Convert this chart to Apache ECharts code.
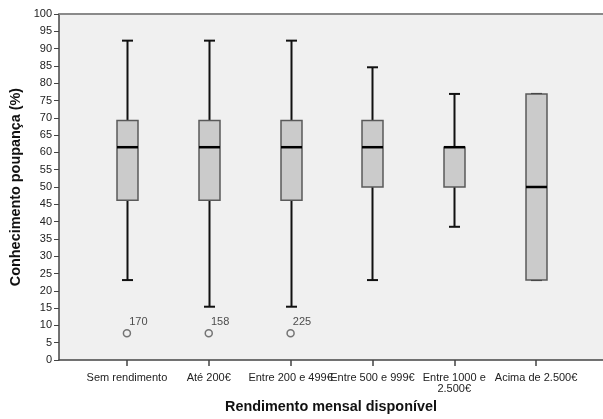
<!DOCTYPE html>
<html>
<head>
<meta charset="utf-8">
<script src="https://cdn.jsdelivr.net/npm/echarts@6/dist/echarts.min.js"></script>
<style>
  html, body { margin: 0; padding: 0; background: #fff; }
  #chart { width: 603px; height: 419px; }
</style>
</head>
<body>
<div id="chart"></div>
<script>
var categories = ['Sem rendimento', 'Até 200€', 'Entre 200 e 499€', 'Entre 500 e 999€', 'Entre 1000 e\n2.500€', 'Acima de 2.500€'];
// [min, Q1, median, Q3, max]
var boxStats = [
  [23.1, 46.2, 61.5, 69.2, 92.3],
  [15.4, 46.2, 61.5, 69.2, 92.3],
  [15.4, 46.2, 61.5, 69.2, 92.3],
  [23.1, 50.0, 61.5, 69.2, 84.6],
  [38.5, 50.0, 61.5, 61.5, 76.9],
  [23.1, 23.1, 50.0, 76.9, 76.9]
];
var outlierCats = [0, 1, 2];
var outlierValues = [7.7, 7.7, 7.7];
var outlierIds = ['170', '158', '225'];
var yTicks = { min: 0, max: 100, interval: 5 };

var chart = echarts.init(document.getElementById('chart'));

var boxData = boxStats.map(function (s, i) { return [i].concat(s); });
var outlierData = outlierCats.map(function (c, i) {
  return { value: [c, outlierValues[i]], id: outlierIds[i] };
});

function renderBox(params, api) {
  var x = api.value(0);
  var pMin = api.coord([x, api.value(1)]);
  var pQ1 = api.coord([x, api.value(2)]);
  var pMed = api.coord([x, api.value(3)]);
  var pQ3 = api.coord([x, api.value(4)]);
  var pMax = api.coord([x, api.value(5)]);
  var cx = Math.round(pMin[0]) + 0.5;
  var hw = 10.5, cw = 5.5;
  var line = { stroke: '#111', lineWidth: 2 };
  return {
    type: 'group',
    children: [
      { type: 'line', shape: { x1: cx, y1: pMax[1], x2: cx, y2: pQ3[1] }, style: line },
      { type: 'line', shape: { x1: cx, y1: pQ1[1], x2: cx, y2: pMin[1] }, style: line },
      { type: 'line', shape: { x1: cx - cw, y1: pMax[1], x2: cx + cw, y2: pMax[1] }, style: line },
      { type: 'line', shape: { x1: cx - cw, y1: pMin[1], x2: cx + cw, y2: pMin[1] }, style: line },
      { type: 'rect', shape: { x: cx - hw, y: pQ3[1], width: hw * 2, height: pQ1[1] - pQ3[1] },
        style: { fill: '#cbcbcb', stroke: '#5a5a5a', lineWidth: 1.5 } },
      { type: 'line', shape: { x1: cx - hw, y1: pMed[1], x2: cx + hw, y2: pMed[1] },
        style: { stroke: '#000', lineWidth: 2.5 } }
    ]
  };
}

var font = 'Liberation Sans, Arial, sans-serif';

var option = {
  animation: false,
  backgroundColor: '#fff',
  grid: [
    { left: 59, right: 0, top: 14, bottom: 59, outerBoundsMode: 'none', show: true, backgroundColor: '#f0f0f0', borderWidth: 0 },
    { left: 86, width: 491, top: 14, bottom: 59, outerBoundsMode: 'none' }
  ],
  xAxis: [
    {
      gridIndex: 0, type: 'value', min: 0, max: 1, position: 'bottom',
      axisLine: { show: true, onZero: false, lineStyle: { color: '#444', width: 1.5 } },
      axisTick: { show: false }, axisLabel: { show: false }, splitLine: { show: false },
      name: 'Rendimento mensal disponível', nameLocation: 'middle', nameGap: 40,
      nameTextStyle: { fontFamily: font, fontSize: 14.4, fontWeight: 'bold', color: '#111' }
    },
    {
      gridIndex: 1, type: 'category', data: categories, boundaryGap: true,
      axisLine: { show: false },
      axisTick: { show: true, alignWithLabel: true, length: 6, lineStyle: { color: '#444', width: 1.5 } },
      axisLabel: { fontFamily: font, fontSize: 11, color: '#222', margin: 12, lineHeight: 11, interval: 0 },
      splitLine: { show: false }
    },
    {
      gridIndex: 0, type: 'value', min: 0, max: 1, position: 'top',
      axisLine: { show: true, onZero: false, lineStyle: { color: '#8a8a8a', width: 2 } },
      axisTick: { show: false }, axisLabel: { show: false }, splitLine: { show: false }
    }
  ],
  yAxis: [
    {
      gridIndex: 0, type: 'value', min: yTicks.min, max: yTicks.max, interval: yTicks.interval,
      axisLine: { show: true, lineStyle: { color: '#444', width: 1.5 } },
      axisTick: { show: true, length: 5, lineStyle: { color: '#444' } },
      axisLabel: { fontFamily: font, fontSize: 11, color: '#222', margin: 7 },
      splitLine: { show: false },
      name: 'Conhecimento poupança (%)', nameLocation: 'middle', nameGap: 28,
      nameTextStyle: { fontFamily: font, fontSize: 14.4, fontWeight: 'bold', color: '#111' }
    },
    {
      gridIndex: 1, type: 'value', min: yTicks.min, max: yTicks.max, show: false
    }
  ],
  series: [
    {
      type: 'custom', xAxisIndex: 1, yAxisIndex: 1,
      renderItem: renderBox, data: boxData,
      encode: { x: 0, y: [1, 2, 3, 4, 5] }
    },
    {
      type: 'scatter', xAxisIndex: 1, yAxisIndex: 1,
      symbol: 'circle', symbolSize: 7,
      itemStyle: { color: '#f0f0f0', borderColor: '#555', borderWidth: 1.5 },
      label: {
        show: true, position: 'right', offset: [-3, -11], distance: 1,
        fontFamily: font, fontSize: 11, color: '#222',
        formatter: function (p) { return p.data.id; }
      },
      data: outlierData
    }
  ]
};
chart.setOption(option);
window.addEventListener('resize', function () {
  chart.resize();
});
</script>
</body>
</html>
